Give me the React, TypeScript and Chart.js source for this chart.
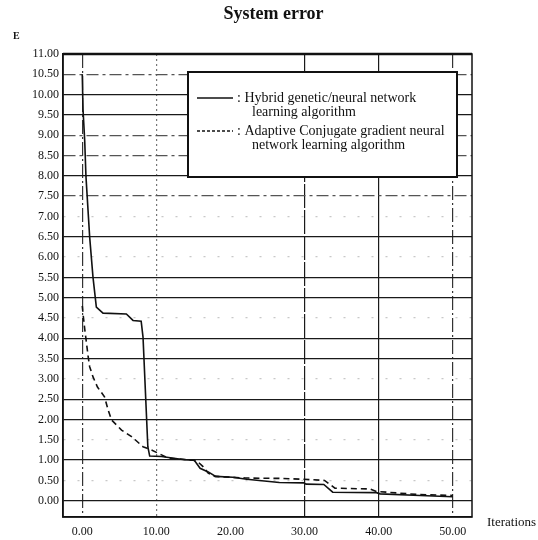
import React, { useEffect, useRef } from "react";
import { Chart, registerables } from "chart.js";

Chart.register(...registerables);

const TITLE = "System error";
const Y_TITLE = "E";
const X_TITLE = "Iterations";

const X_TICKS = [0, 10, 20, 30, 40, 50];
const Y_TICKS = [0, 0.5, 1, 1.5, 2, 2.5, 3, 3.5, 4, 4.5, 5, 5.5, 6, 6.5, 7, 7.5, 8, 8.5, 9, 9.5, 10, 10.5, 11];

const HYBRID_LABEL = ["Hybrid genetic/neural network", "learning algorithm"];
const HYBRID_X = [0, 0.1, 0.33, 0.5, 1.0, 1.45, 1.9, 2.8, 5.95, 6.85, 7.95, 8.2, 8.85, 9.1, 10.7, 13.8, 15.1, 15.9, 17.0, 18.0, 20.3, 22.2, 26.6, 29.9, 30.2, 32.6, 33.8, 39.7, 40.2, 45.6, 50.0];
const HYBRID_Y = [10.5, 9.64, 8.86, 7.98, 6.49, 5.5, 4.77, 4.62, 4.6, 4.44, 4.42, 4.03, 1.33, 1.1, 1.09, 1.01, 1.0, 0.8, 0.71, 0.6, 0.58, 0.53, 0.45, 0.44, 0.41, 0.4, 0.21, 0.2, 0.17, 0.13, 0.1];

const CG_LABEL = ["Adaptive Conjugate gradient neural", "network learning algorithm"];
const CG_X = [0, 0.15, 0.35, 0.58, 0.8, 1.0, 1.45, 2.05, 3.0, 3.5, 3.95, 5.3, 6.65, 8.2, 9.35, 10.7, 11.6, 15.0, 15.6, 16.3, 17.0, 17.9, 22.0, 26.7, 29.8, 32.7, 34.1, 38.8, 39.7, 45.6, 50.0];
const CG_Y = [4.8, 4.52, 4.2, 3.87, 3.54, 3.3, 3.05, 2.8, 2.56, 2.23, 1.99, 1.74, 1.58, 1.33, 1.25, 1.13, 1.05, 1.0, 0.96, 0.84, 0.68, 0.6, 0.56, 0.55, 0.53, 0.5, 0.31, 0.29, 0.23, 0.15, 0.13];

const SERIF = '"Liberation Serif", "Times New Roman", serif';

const SOLID_Y = [0, 1, 2, 2.5, 3.5, 4, 5, 5.5, 6.5, 8, 9.5, 10, 11];
const DASHED_Y = [10.5, 9, 8.5, 7.5];

const near = (list: number[], v: number) => list.some((a) => Math.abs(a - v) < 1e-6);

const yGridColor = (c: any) => {
  const v = c.tick ? c.tick.value : 0;
  if (near(SOLID_Y, v)) return "#1a1a1a";
  if (near(DASHED_Y, v)) return "#555";
  return "#c8c8c8";
};
const yGridDash = (c: any) => {
  if (!c.tick) return [];
  const v = c.tick.value;
  if (near(SOLID_Y, v)) return [];
  if (near(DASHED_Y, v)) return [12, 4, 3, 4];
  return [2, 12];
};
const xGridColor = (c: any) => {
  const v = c.tick ? c.tick.value : 0;
  if (v === 20) return "rgba(0,0,0,0)";
  if (v === 10) return "#777";
  if (v === 0 || v === 50) return "#333";
  return "#1a1a1a";
};
const xGridDash = (c: any) => {
  if (!c.tick) return [];
  const v = c.tick.value;
  if (v === 10) return [2, 3];
  if (v === 0 || v === 50) return [14, 3, 2, 3];
  if (v === 30) return [24, 2];
  return [];
};

const decorPlugin = {
  id: "decor",
  afterDraw(chart: any) {
    const { ctx, chartArea: ca } = chart;
    ctx.save();
    // frame
    ctx.strokeStyle = "#111";
    ctx.lineWidth = 1.5;
    ctx.setLineDash([]);
    ctx.strokeRect(ca.left, ca.top, ca.right - ca.left, ca.bottom - ca.top);
    ctx.lineWidth = 2.5;
    ctx.beginPath();
    ctx.moveTo(ca.left, ca.top);
    ctx.lineTo(ca.right, ca.top);
    ctx.stroke();

    // texts
    ctx.fillStyle = "#111";
    ctx.textBaseline = "alphabetic";
    ctx.textAlign = "center";
    ctx.font = `bold 18px ${SERIF}`;
    ctx.fillText(TITLE, (ca.left + ca.right) / 2 + 6, 19);
    ctx.textAlign = "left";
    ctx.font = `bold 10px ${SERIF}`;
    ctx.fillText(Y_TITLE, 13, 39);
    ctx.font = `13px ${SERIF}`;
    ctx.fillText(X_TITLE, ca.right + 15, ca.bottom + 9);

    // legend box
    const bx = ca.left + 125;
    const by = ca.top + 18;
    const bw = 269;
    const bh = 105;
    ctx.fillStyle = "#fff";
    ctx.fillRect(bx, by, bw, bh);
    ctx.strokeStyle = "#111";
    ctx.lineWidth = 2;
    ctx.strokeRect(bx, by, bw, bh);

    const labels = [HYBRID_LABEL, CG_LABEL];
    chart.data.datasets.forEach((ds: any, i: number) => {
      const y = by + 26 + i * 33;
      ctx.strokeStyle = "#111";
      ctx.lineWidth = 1.5;
      ctx.setLineDash(ds.borderDash && ds.borderDash.length ? [3, 2] : []);
      ctx.beginPath();
      ctx.moveTo(bx + 9, y);
      ctx.lineTo(bx + 45, y);
      ctx.stroke();
      ctx.setLineDash([]);
      ctx.fillStyle = "#111";
      ctx.font = `14px ${SERIF}`;
      ctx.textBaseline = "middle";
      ctx.textAlign = "left";
      ctx.fillText(": " + labels[i][0], bx + 49, y);
      ctx.fillText(labels[i][1], bx + 64, y + 14);
    });
    ctx.restore();
  },
};

export default function App() {
  const ref = useRef<HTMLCanvasElement | null>(null);
  useEffect(() => {
    if (!ref.current) return;
    const chart = new Chart(ref.current, {
      type: "scatter",
      data: {
        datasets: [
          {
            label: HYBRID_LABEL.join(" "),
            data: HYBRID_X.map((x, i) => ({ x, y: HYBRID_Y[i] })),
            showLine: true,
            borderColor: "#111",
            borderWidth: 1.6,
            pointRadius: 0,
            tension: 0,
            fill: false,
          },
          {
            label: CG_LABEL.join(" "),
            data: CG_X.map((x, i) => ({ x, y: CG_Y[i] })),
            showLine: true,
            borderColor: "#111",
            borderWidth: 1.6,
            borderDash: [6, 4],
            pointRadius: 0,
            tension: 0,
            fill: false,
          },
        ],
      },
      options: {
        animation: false,
        responsive: false,
        layout: { padding: { top: 54, right: 66, left: 0, bottom: 0 } },
        plugins: {
          legend: { display: false },
          title: { display: false },
          tooltip: { enabled: false },
        },
        scales: {
          x: {
            type: "linear",
            min: -2.6,
            max: 52.6,
            afterBuildTicks: (s: any) => {
              s.ticks = X_TICKS.map((v) => ({ value: v }));
            },
            afterFit: (s: any) => {
              s.height = 23;
            },
            ticks: {
              callback: (v: any) => Number(v).toFixed(2),
              font: { family: SERIF, size: 12 },
              color: "#111",
              padding: 8,
              maxRotation: 0,
              autoSkip: false,
            },
            grid: { drawTicks: false, color: xGridColor, lineWidth: 1.2 },
            border: { display: true, color: "#111", width: 1.5, dash: xGridDash },
          },
          y: {
            type: "linear",
            min: -0.4,
            max: 11,
            afterBuildTicks: (s: any) => {
              s.ticks = Y_TICKS.map((v) => ({ value: v }));
            },
            afterFit: (s: any) => {
              s.width = 63;
            },
            ticks: {
              callback: (v: any) => Number(v).toFixed(2),
              font: { family: SERIF, size: 12 },
              color: "#111",
              padding: 4,
              autoSkip: false,
            },
            grid: { drawTicks: false, color: yGridColor, lineWidth: 1.3 },
            border: { display: true, color: "#111", width: 1.5, dash: yGridDash },
          },
        },
      },
      plugins: [decorPlugin],
    } as any);
    return () => chart.destroy();
  }, []);
  return (
    <div style={{ position: "absolute", left: 0, top: 0, width: 538, height: 540, background: "#fff" }}>
      <canvas ref={ref} width={538} height={540} style={{ display: "block" }} />
    </div>
  );
}
